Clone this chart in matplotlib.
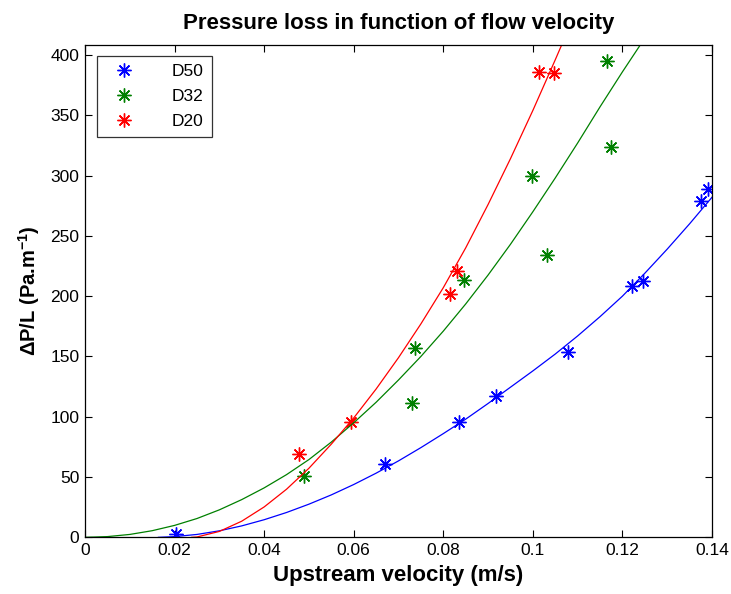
import matplotlib
matplotlib.use("Agg")
import matplotlib.pyplot as plt

plt.rcParams['font.family'] = ['Liberation Sans', 'DejaVu Sans']
plt.rcParams['mathtext.fontset'] = 'custom'
plt.rcParams['mathtext.rm'] = 'Liberation Sans:bold'
plt.rcParams['mathtext.bf'] = 'Liberation Sans:bold'
plt.rcParams['mathtext.default'] = 'bf'

# measured points
d50_x = [0.0204, 0.0670, 0.0836, 0.0918, 0.1079, 0.1222, 0.1245, 0.1376, 0.1390]
d50_y = [2.5, 60.5, 95.8, 117, 153.6, 208.4, 212.5, 278.9, 288.8]
d32_x = [0.0488, 0.0731, 0.0736, 0.0846, 0.0999, 0.1032, 0.1166, 0.1174]
d32_y = [50.8, 111.6, 157.2, 213.4, 299.6, 234.0, 395.2, 323.9]
d20_x = [0.0477, 0.0594, 0.0816, 0.0831, 0.1013, 0.1048]
d20_y = [69.0, 95.4, 201.5, 220.8, 385.6, 384.7]

# fitted curves
fit50_x = [0.0164, 0.020, 0.025, 0.030, 0.035, 0.040, 0.045, 0.050, 0.055, 0.060,
           0.065, 0.070, 0.075, 0.080, 0.085, 0.090, 0.095, 0.100, 0.105, 0.110,
           0.115, 0.120, 0.125, 0.130, 0.135, 0.140, 0.1404]
fit50_y = [0.0, 0.6, 2.4, 5.4, 9.5, 14.6, 20.6, 27.5, 35.2, 43.8,
           53.2, 63.4, 74.4, 86.0, 98.0, 111.0, 124.5, 138.0, 152.0, 167.0,
           183.0, 200.0, 219.0, 239.0, 260.0, 282.0, 284.0]
fit32_x = [0.0, 0.005, 0.010, 0.015, 0.020, 0.025, 0.030, 0.035, 0.040, 0.045,
           0.050, 0.055, 0.060, 0.065, 0.070, 0.075, 0.080, 0.085, 0.090, 0.095,
           0.100, 0.105, 0.110, 0.115, 0.120, 0.125]
fit32_y = [0.0, 0.6, 2.4, 5.5, 9.9, 15.6, 22.8, 31.3, 41.0, 52.0,
           64.5, 79.0, 95.0, 112.0, 130.5, 150.0, 171.0, 193.5, 217.5, 243.0,
           270.0, 298.0, 327.0, 357.0, 386.0, 414.0]
fit20_x = [0.0238, 0.025, 0.030, 0.035, 0.040, 0.045, 0.050, 0.055, 0.060, 0.065,
           0.070, 0.075, 0.080, 0.085, 0.090, 0.095, 0.100, 0.105, 0.110]
fit20_y = [0.0, 0.3, 4.9, 13.4, 25.2, 39.9, 57.3, 77.3, 99.0, 123.0,
           149.0, 177.0, 207.0, 240.0, 276.0, 314.0, 354.0, 396.0, 439.0]

labels = ['D50', 'D32', 'D20']
colors = ['#0000ff', '#008000', '#ff0000']

fig = plt.figure(figsize=(7.31, 5.94), dpi=100)
ax = fig.add_axes([0.1163, 0.0954, 0.8577, 0.8293])

mk = (8, 2, 0)
pts = [(d50_x, d50_y), (d32_x, d32_y), (d20_x, d20_y)]
for (px, py), lab, c in zip(pts, labels, colors):
    ax.plot(px, py, linestyle='none', marker=mk, markersize=10, mew=1.0,
            color=c, label=lab)
fits = [(fit50_x, fit50_y), (fit32_x, fit32_y), (fit20_x, fit20_y)]
for (fx, fy), c in zip(fits, colors):
    ax.plot(fx, fy, '-', color=c, lw=0.9)

ax.set_xlim(0, 0.14)
ax.set_ylim(0, 408.5)
ax.set_xticks([0, 0.02, 0.04, 0.06, 0.08, 0.1, 0.12, 0.14])
ax.set_xticklabels(['0', '0.02', '0.04', '0.06', '0.08', '0.1', '0.12', '0.14'])
ax.set_yticks(range(0, 401, 50))
ax.tick_params(direction='in', length=5, width=0.8, top=True, right=True,
               labelsize=12.5, pad=4)
for s in ax.spines.values():
    s.set_linewidth(0.9)

ax.set_title('Pressure loss in function of flow velocity', fontsize=16,
             fontweight='bold', pad=11)
ax.set_xlabel('Upstream velocity (m/s)', fontsize=16, fontweight='bold', labelpad=5)
ax.set_ylabel('\u0394P/L (Pa.m$^{-1}$)', fontsize=14.5, fontweight='bold', labelpad=6)

leg = ax.legend(loc='upper left', bbox_to_anchor=(0.0186, 0.978), fontsize=12.5,
                frameon=True, fancybox=False, edgecolor='black', handlelength=2.2,
                borderpad=0.5, labelspacing=0.55, handletextpad=1.6, borderaxespad=0)
leg.get_frame().set_linewidth(0.9)

fig.savefig('out.png', dpi=100)
